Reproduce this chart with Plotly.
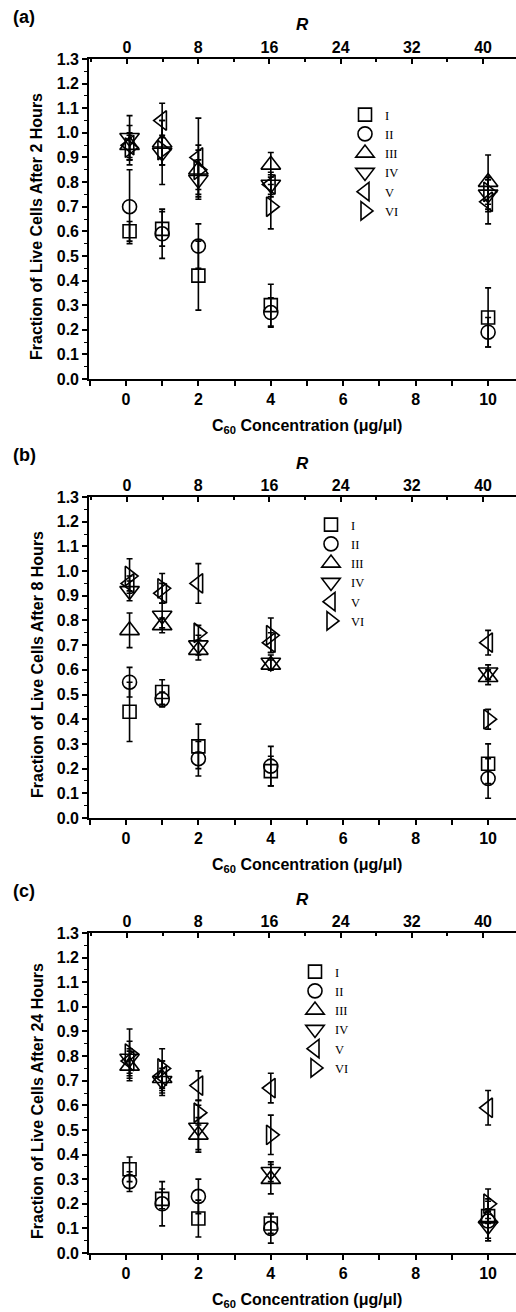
import plotly.graph_objects as go

# ---------------- data ----------------
conc = [0.1, 1, 2, 4, 10]                      # C60 concentration (ug/ul)
r_values = [0.4, 4, 8, 16, 40]                 # corresponding R for each concentration
series_names = ["I", "II", "III", "IV", "V", "VI"]
symbols = ["square-open", "circle-open", "triangle-up-open",
           "triangle-down-open", "triangle-left-open", "triangle-right-open"]
marker_sizes = [13, 14, 17, 17, 17, 17]

x_ticks = [0, 2, 4, 6, 8, 10]
r_ticks = [0, 8, 16, 24, 32, 40]

# (a) after 2 hours
a_I = [0.60, 0.61, 0.42, 0.30, 0.25]
a_I_err = [0.04, 0.07, 0.14, 0.085, 0.12]
a_II = [0.70, 0.59, 0.54, 0.27, 0.19]
a_II_err = [0.15, 0.10, 0.09, 0.06, 0.06]
a_III = [0.95, 0.96, 0.85, 0.87, 0.80]
a_III_err = [0.08, 0.09, 0.10, 0.05, 0.11]
a_IV = [0.98, 0.92, 0.81, 0.79, 0.75]
a_IV_err = [0.09, 0.13, 0.08, 0.04, 0.07]
a_V = [0.95, 1.05, 0.90, 0.79, 0.72]
a_V_err = [0.05, 0.07, 0.16, 0.05, 0.09]
a_VI = [0.94, 0.93, 0.85, 0.70, 0.76]
a_VI_err = [0.05, 0.06, 0.08, 0.09, 0.05]

# (b) after 8 hours
b_I = [0.43, 0.51, 0.29, 0.19, 0.22]
b_I_err = [0.12, 0.05, 0.09, 0.06, 0.08]
b_II = [0.55, 0.48, 0.24, 0.21, 0.16]
b_II_err = [0.06, 0.03, 0.07, 0.08, 0.08]
b_III = [0.76, 0.78, 0.68, 0.62, 0.57]
b_III_err = [0.07, 0.03, 0.04, 0.02, 0.03]
b_IV = [0.92, 0.82, 0.70, 0.63, 0.59]
b_IV_err = [0.04, 0.05, 0.04, 0.03, 0.03]
b_V = [0.95, 0.91, 0.95, 0.71, 0.71]
b_V_err = [0.03, 0.04, 0.08, 0.04, 0.05]
b_VI = [0.98, 0.93, 0.75, 0.74, 0.40]
b_VI_err = [0.07, 0.06, 0.03, 0.07, 0.04]

# (c) after 24 hours
c_I = [0.34, 0.22, 0.14, 0.12, 0.15]
c_I_err = [0.05, 0.04, 0.075, 0.04, 0.03]
c_II = [0.29, 0.20, 0.23, 0.10, 0.13]
c_II_err = [0.04, 0.09, 0.07, 0.06, 0.08]
c_III = [0.76, 0.71, 0.48, 0.30, 0.14]
c_III_err = [0.06, 0.07, 0.07, 0.06, 0.08]
c_IV = [0.79, 0.70, 0.51, 0.33, 0.11]
c_IV_err = [0.07, 0.05, 0.09, 0.04, 0.06]
c_V = [0.78, 0.72, 0.68, 0.67, 0.59]
c_V_err = [0.05, 0.06, 0.06, 0.06, 0.07]
c_VI = [0.81, 0.75, 0.57, 0.48, 0.20]
c_VI_err = [0.10, 0.08, 0.05, 0.08, 0.06]

panels = [
    ("(a)", "Fraction of Live Cells After 2 Hours",
     [a_I, a_II, a_III, a_IV, a_V, a_VI],
     [a_I_err, a_II_err, a_III_err, a_IV_err, a_V_err, a_VI_err]),
    ("(b)", "Fraction of Live Cells After 8 Hours",
     [b_I, b_II, b_III, b_IV, b_V, b_VI],
     [b_I_err, b_II_err, b_III_err, b_IV_err, b_V_err, b_VI_err]),
    ("(c)", "Fraction of Live Cells After 24 Hours",
     [c_I, c_II, c_III, c_IV, c_V, c_VI],
     [c_I_err, c_II_err, c_III_err, c_IV_err, c_V_err, c_VI_err]),
]

# ---------------- layout geometry (pixels) ----------------
W, H = 516, 1312
plot_left = 89
plot_tops = [59, 497, 933]
plot_bots = [379, 818, 1253]
legend_pos = [(345, 100), (311, 510), (295, 957)]


def py(v):
    return 1 - v / H


def px(v):
    return v / W


TICKFONT = dict(family="Liberation Sans", size=16, color="black", weight="bold")
TITLEFONT = dict(family="Liberation Sans", size=16, color="black", weight="bold")

fig = go.Figure()
layout = dict(
    width=W, height=H,
    margin=dict(l=0, r=0, t=0, b=0, autoexpand=False),
    paper_bgcolor="white", plot_bgcolor="white",
    showlegend=True,
)
annotations = []

for k, (label, ytitle, vals, errs) in enumerate(panels):
    n = k + 1
    xa = "x" if n == 1 else f"x{n}"
    ya = "y" if n == 1 else f"y{n}"
    xtop = f"x{n + 3}"
    leg = "legend" if n == 1 else f"legend{n}"
    dom_y = [py(plot_bots[k]), py(plot_tops[k])]

    for i, name in enumerate(series_names):
        fig.add_trace(go.Scatter(
            x=conc, y=vals[i], name=name, mode="markers",
            xaxis=xa, yaxis=ya, legend=leg,
            marker=dict(symbol=symbols[i], size=marker_sizes[i], color="black",
                        line=dict(width=1.6, color="black")),
            error_y=dict(type="data", array=errs[i], visible=True,
                         color="black", thickness=1.6, width=3),
        ))
    # invisible trace so the top R axis is drawn
    fig.add_trace(go.Scatter(
        x=r_values, y=vals[0], mode="markers", xaxis=xtop, yaxis=ya,
        marker=dict(opacity=0, size=1), showlegend=False, hoverinfo="skip",
    ))

    layout["xaxis" if n == 1 else f"xaxis{n}"] = dict(
        domain=[px(plot_left), 1.0], anchor=ya,
        range=[-1.02, 10.77], tickvals=x_ticks,
        ticks="outside", ticklen=5, tickwidth=1.5, tickcolor="black",
        minor=dict(dtick=1, tick0=0, ticks="outside", ticklen=5,
                   tickwidth=1.5, tickcolor="black"),
        showline=True, linecolor="black", linewidth=1.6, mirror=False,
        showgrid=False, zeroline=False, tickfont=TICKFONT, automargin=False,
    )
    layout[f"xaxis{n + 3}"] = dict(
        overlaying=xa, side="top", anchor=ya,
        range=[-4.27, 43.7], tickvals=r_ticks,
        ticks="inside", ticklen=5, tickwidth=1.5, tickcolor="black",
        minor=dict(dtick=4, tick0=0, ticks="inside", ticklen=3,
                   tickwidth=1.5, tickcolor="black"),
        showline=True, linecolor="black", linewidth=1.6,
        showgrid=False, zeroline=False, tickfont=TICKFONT, automargin=False,
        ticklabelstandoff=-2,
    )
    layout["yaxis" if n == 1 else f"yaxis{n}"] = dict(
        domain=dom_y, anchor=xa,
        range=[0, 1.3], dtick=0.1, tick0=0, tickformat=".1f",
        ticks="outside", ticklen=5, tickwidth=1.5, tickcolor="black",
        minor=dict(dtick=0.05, tick0=0, ticks="outside", ticklen=3,
                   tickwidth=1.2, tickcolor="black"),
        showline=True, linecolor="black", linewidth=1.6, mirror=False,
        showgrid=False, zeroline=False, tickfont=TICKFONT, automargin=False,
    )
    lx, ly = legend_pos[k]
    layout[leg] = dict(
        x=px(lx), y=py(ly), xanchor="left", yanchor="top",
        bgcolor="rgba(0,0,0,0)", borderwidth=0,
        font=dict(family="Liberation Serif", size=12.5, color="black"),
        itemsizing="trace",
    )

    t, b = plot_tops[k], plot_bots[k]
    annotations += [
        dict(text=label, x=px(11), y=py(t - 42), xref="paper", yref="paper",
             xanchor="left", yanchor="middle", showarrow=False,
             font=dict(family="Liberation Sans", size=18, color="black", weight="bold")),
        dict(text="<i>R</i>", x=px(302), y=py(t - 34), xref="paper", yref="paper",
             xanchor="center", yanchor="middle", showarrow=False,
             font=dict(family="Liberation Sans", size=17, color="black", weight="bold")),
        dict(text=ytitle, x=px(37), y=py(t + 168), xref="paper", yref="paper",
             xanchor="center", yanchor="middle", textangle=-90, showarrow=False,
             font=TITLEFONT),
        dict(text="C<sub>60</sub> Concentration (μg/μl)", x=px(307), y=py(b + 47),
             xref="paper", yref="paper", xanchor="center", yanchor="middle",
             showarrow=False, font=TITLEFONT),
    ]

layout["annotations"] = annotations
fig.update_layout(**layout)
fig.write_html("out.html", config={"displayModeBar": False},
               post_script="document.body.style.margin='0';")
